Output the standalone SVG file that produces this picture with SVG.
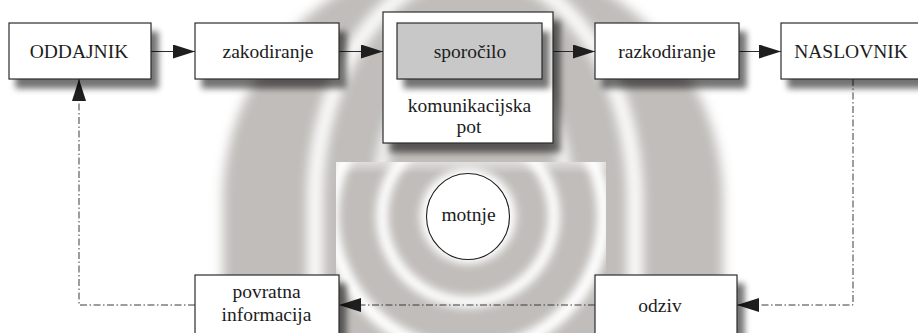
<svg xmlns="http://www.w3.org/2000/svg" width="918" height="333" viewBox="0 0 918 333">
  <style>
    .box { fill: #ffffff; stroke: #2b2b2b; stroke-width: 1.2; }
    .msg { fill: #c8c8c8; stroke: #2b2b2b; stroke-width: 1.2; }
    .lbl { font-size: 19.5px; fill: #1c1c1c; text-anchor: middle; }
    .flow { fill: none; stroke: #2b2b2b; stroke-width: 1.2; }
    .back { fill: none; stroke: #3a3a3a; stroke-width: 1; stroke-dasharray: 7 2.5 1.5 2.5; }
    .band { fill: none; stroke: #ffffff; }
  </style>
  <defs>
    <filter id="shadow" x="-15%" y="-15%" width="140%" height="150%">
      <feGaussianBlur in="SourceAlpha" stdDeviation="3"/>
      <feOffset dx="7" dy="9" result="off"/>
      <feComponentTransfer><feFuncA type="linear" slope="0.55"/></feComponentTransfer>
      <feMerge><feMergeNode/><feMergeNode in="SourceGraphic"/></feMerge>
    </filter>
    <filter id="soft" x="-20%" y="-20%" width="140%" height="140%">
      <feGaussianBlur stdDeviation="6"/>
    </filter>
    <filter id="soft2" x="-20%" y="-20%" width="140%" height="140%">
      <feGaussianBlur stdDeviation="4"/>
    </filter>
    <clipPath id="innerClip">
      <rect x="336" y="162" width="270" height="180"/>
    </clipPath>
    <linearGradient id="topFade" x1="0" y1="0" x2="0" y2="1">
      <stop offset="0" stop-color="#ffffff" stop-opacity="0.5"/>
      <stop offset="1" stop-color="#ffffff" stop-opacity="0"/>
    </linearGradient>
    <marker id="head" markerUnits="userSpaceOnUse" markerWidth="22" markerHeight="14" refX="22" refY="7" orient="auto">
      <path d="M0,0 L22,7 L0,14 z" fill="#1e1e1e"/>
    </marker>
  </defs>

  <rect width="918" height="333" fill="#ffffff"/>

  <!-- ripple background: tall outer arches, then a clipped set of rings round "motnje" -->
  <g id="ripples">
    <g filter="url(#soft)">
      <path d="M223,400 V200 A250,245 0 0 1 723,200 V400 Z" fill="#c0bdba"/>
      <path class="band" d="M315,400 V200 A160,230 0 0 1 635,200 V400" stroke-width="14"/>
      <path class="band" d="M379,400 V200 A94,150 0 0 1 567,200 V400" stroke-width="11" stroke-opacity="0.9"/>
    </g>
    <g clip-path="url(#innerClip)">
      <rect x="336" y="162" width="270" height="180" fill="#c0bdba"/>
      <g filter="url(#soft2)">
        <circle cx="468" cy="216" r="136" class="band" stroke-width="14"/>
        <circle cx="468" cy="216" r="86" class="band" stroke-width="12"/>
        <circle cx="468" cy="216" r="48" fill="#ffffff"/>
      </g>
      <rect x="336" y="162" width="270" height="12" fill="url(#topFade)"/>
    </g>
  </g>

  <!-- connectors -->
  <g id="connectors">
    <line class="flow" x1="151" y1="51.5" x2="195" y2="51.5" marker-end="url(#head)"/>
    <line class="flow" x1="339" y1="51.5" x2="383" y2="51.5" marker-end="url(#head)"/>
    <line class="flow" x1="553" y1="51.5" x2="595" y2="51.5" marker-end="url(#head)"/>
    <line class="flow" x1="739" y1="51.5" x2="781" y2="51.5" marker-end="url(#head)"/>
    <path class="back" d="M853,79 V305 H737" marker-end="url(#head)"/>
    <path class="back" d="M595,305 H339" marker-end="url(#head)"/>
    <path class="back" d="M195,305 H79 V79" marker-end="url(#head)"/>
  </g>

  <g id="nodes" font-family="'Liberation Serif', 'Times New Roman', serif">
    <g id="oddajnik">
      <rect class="box" x="9" y="23" width="142" height="56" filter="url(#shadow)"/>
      <text class="lbl" x="79" y="58">ODDAJNIK</text>
    </g>

    <g id="zakodiranje">
      <rect class="box" x="195" y="23" width="144" height="56" filter="url(#shadow)"/>
      <text class="lbl" x="268" y="58">zakodiranje</text>
    </g>

    <g id="komunikacijska-pot">
      <rect class="box" x="383" y="12" width="170" height="131" filter="url(#shadow)"/>
      <text class="lbl" x="469.5" y="112">komunikacijska</text>
      <text class="lbl" x="469" y="133">pot</text>
    </g>

    <g id="sporocilo">
      <rect class="msg" x="397" y="23" width="145" height="56" filter="url(#shadow)"/>
      <text class="lbl" x="470" y="58">sporočilo</text>
    </g>

    <g id="razkodiranje">
      <rect class="box" x="595" y="23" width="144" height="56" filter="url(#shadow)"/>
      <text class="lbl" x="667" y="58">razkodiranje</text>
    </g>

    <g id="naslovnik">
      <rect class="box" x="781" y="23" width="142" height="56" filter="url(#shadow)"/>
      <text class="lbl" x="851" y="58">NASLOVNIK</text>
    </g>

    <g id="motnje">
      <ellipse cx="468" cy="216.5" rx="41.5" ry="43" fill="#ffffff" stroke="#1e1e1e" stroke-width="1.1"/>
      <text class="lbl" x="468.5" y="221">motnje</text>
    </g>

    <g id="odziv">
      <rect class="box" x="595" y="275" width="142" height="70" filter="url(#shadow)"/>
      <text class="lbl" x="660" y="312">odziv</text>
    </g>

    <g id="povratna-informacija">
      <rect class="box" x="195" y="275" width="144" height="70" filter="url(#shadow)"/>
      <text class="lbl" x="266.5" y="298">povratna</text>
      <text class="lbl" x="266.5" y="321">informacija</text>
    </g>
  </g>
</svg>
